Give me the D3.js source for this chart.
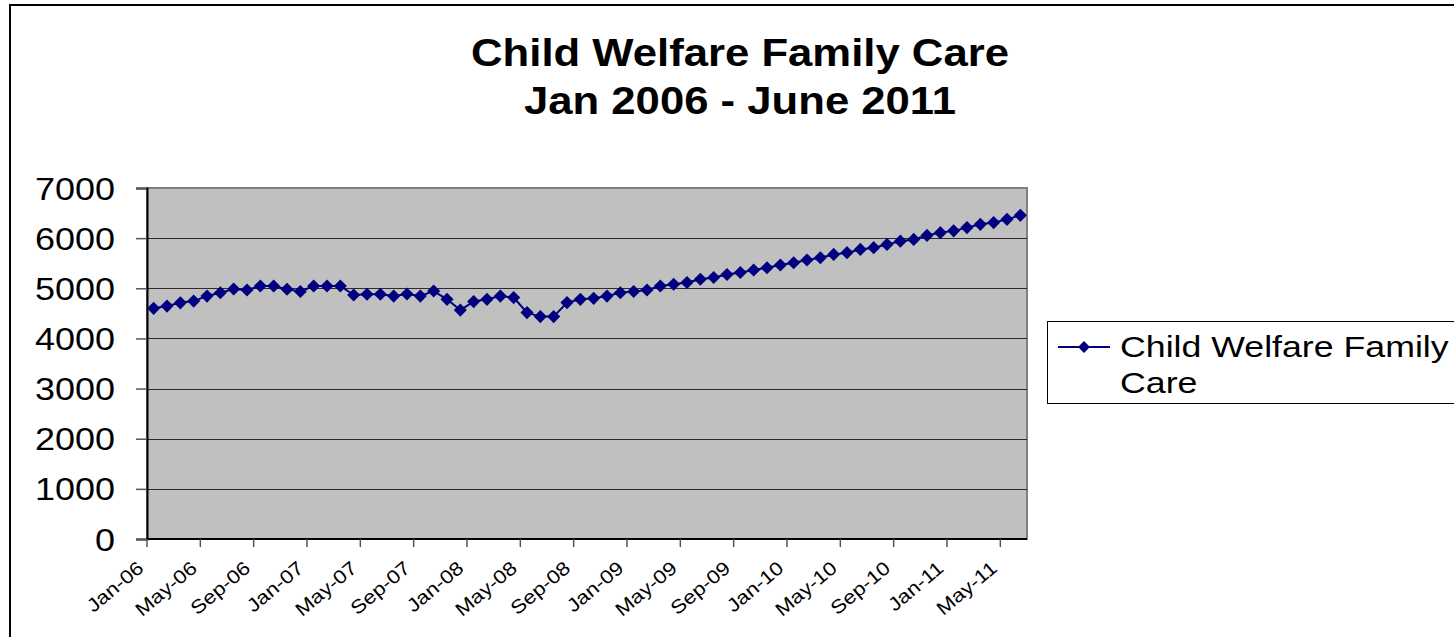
<!DOCTYPE html>
<html>
<head>
<meta charset="utf-8">
<script src="https://cdn.jsdelivr.net/npm/d3@7"></script>
<style>
    body{margin:0;background:#fff;}
    text{font-family:"Liberation Sans",Arial,sans-serif;}
</style>
</head>
<body>
<div id="chart"></div>
<script>
let chart_width = 1454;
let chart_height = 637;

let title_lines = ['Child Welfare Family Care','Jan 2006 - June 2011'];
let series_name = ['Child Welfare Family','Care'];

// one value per month, Jan-06 .. Jun-11
let months = d3.timeMonth.range(new Date(2006,0,1), new Date(2011,6,1)).map(d3.timeFormat('%b-%y'));
let family_care = [
    4600,4645,4710,4745,4845,4910,4985,4965,5045,5045,4980,4935,
    5045,5045,5045,4865,4880,4880,4845,4885,4845,4945,4780,4565,
    4735,4780,4845,4815,4515,4435,4435,4715,4780,4800,4845,4910,
    4935,4965,5045,5080,5115,5180,5215,5275,5315,5365,5410,5465,
    5510,5565,5610,5675,5710,5775,5810,5875,5940,5975,6055,6110,
    6145,6210,6275,6310,6375,6455
];
let y_ticks = [0,1000,2000,3000,4000,5000,6000,7000];
let x_tick_labels = ['Jan-06','May-06','Sep-06','Jan-07','May-07','Sep-07','Jan-08','May-08','Sep-08',
    'Jan-09','May-09','Sep-09','Jan-10','May-10','Sep-10','Jan-11','May-11'];

let plot = {left:147, right:1027, top:188, bottom:539};
let navy = '#000080';
// the source picture is stretched sideways a bit
let stretch = 1.16;

let svg = d3.select('#chart')
    .append('svg')
    .attr('width',chart_width)
    .attr('height',chart_height);

// outer chart frame
svg.append('rect')
    .attr('x',10)
    .attr('y',5)
    .attr('width',1460)
    .attr('height',650)
    .attr('fill','#fff')
    .attr('stroke','#000')
    .attr('stroke-width',2);

svg.append('g')
    .selectAll('text')
    .data(title_lines)
    .enter()
    .append('text')
    .text(d=>d)
    .attr('text-anchor','middle')
    .attr('transform',(d,i)=>'translate(740,'+(66+i*48)+') scale(1.12,1)')
    .style('font-size','39px')
    .style('font-weight','bold');

const xScale = d3.scaleBand().domain(months).range([plot.left,plot.right]).padding(0);
const yScale = d3.scaleLinear().domain([0,7000]).range([plot.bottom,plot.top]);

svg.append('rect')
    .attr('x',plot.left)
    .attr('y',plot.top)
    .attr('width',plot.right-plot.left)
    .attr('height',plot.bottom-plot.top)
    .attr('fill','#C0C0C0')
    .attr('stroke','#808080')
    .attr('stroke-width',2);

// gridlines
svg.append('g')
    .selectAll('line')
    .data(y_ticks.filter(t=>t>0 && t<7000))
    .enter()
    .append('line')
    .attr('x1',plot.left)
    .attr('x2',plot.right)
    .attr('y1',d=>Math.round(yScale(d))+0.5)
    .attr('y2',d=>Math.round(yScale(d))+0.5)
    .attr('stroke','#2b2b2b')
    .attr('stroke-width',1);

// y axis
let yAxis = svg.append('g')
    .attr('transform','translate('+plot.left+',0)')
    .call(d3.axisLeft(yScale).tickValues(y_ticks).tickSize(11).tickFormat(d3.format('d')));
yAxis.select('.domain').attr('stroke','#000').attr('stroke-width',2);
yAxis.selectAll('.tick line').attr('stroke','#555').attr('stroke-width',1.5);
yAxis.selectAll('text')
    .attr('x',null)
    .attr('dy',null)
    .attr('transform','translate(-32,11) scale('+stretch+',1)')
    .attr('fill','#000')
    .style('font-size','31px');

// x axis, ticks on the category boundaries
let xAxis = svg.append('g').attr('transform','translate(0,'+plot.bottom+')');
xAxis.append('line')
    .attr('x1',plot.left)
    .attr('x2',plot.right)
    .attr('stroke','#000')
    .attr('stroke-width',2);
xAxis.selectAll('.xtick')
    .data(x_tick_labels)
    .enter()
    .append('line')
    .attr('class','xtick')
    .attr('x1',d=>xScale(d))
    .attr('x2',d=>xScale(d))
    .attr('y1',0)
    .attr('y2',8)
    .attr('stroke','#555')
    .attr('stroke-width',1.5);
xAxis.selectAll('.xlabel')
    .data(x_tick_labels)
    .enter()
    .append('text')
    .attr('class','xlabel')
    .text(d=>d)
    .attr('text-anchor','end')
    .attr('transform',d=>'translate('+(xScale(d)-2)+',31) rotate(-40) scale('+stretch+',1)')
    .style('font-size','19px');

// series
let line = d3.line()
    .x((d,i)=>xScale(months[i])+xScale.bandwidth()/2)
    .y(d=>yScale(d));

svg.append('path')
    .datum(family_care)
    .attr('d',line)
    .attr('fill','none')
    .attr('stroke',navy)
    .attr('stroke-width',2);

let diamond = d3.symbol().type(d3.symbolDiamond2).size(110);
svg.append('g')
    .selectAll('path')
    .data(family_care)
    .enter()
    .append('path')
    .attr('d',diamond)
    .attr('transform',(d,i)=>'translate('+(xScale(months[i])+xScale.bandwidth()/2)+','+yScale(d)+')')
    .attr('fill',navy);

// legend
let legend = svg.append('g');
legend.append('rect')
    .attr('x',1047.5)
    .attr('y',321.5)
    .attr('width',420)
    .attr('height',82)
    .attr('fill','#fff')
    .attr('stroke','#000')
    .attr('stroke-width',1);
legend.append('line')
    .attr('x1',1058)
    .attr('x2',1110)
    .attr('y1',347)
    .attr('y2',347)
    .attr('stroke',navy)
    .attr('stroke-width',2);
legend.append('path')
    .attr('d',d3.symbol().type(d3.symbolDiamond2).size(90))
    .attr('transform','translate(1084,347)')
    .attr('fill',navy);
legend.selectAll('.legtext')
    .data(series_name)
    .enter()
    .append('text')
    .attr('class','legtext')
    .text(d=>d)
    .attr('transform',(d,i)=>'translate(1120,'+(357+i*36)+') scale(1.19,1)')
    .style('font-size','30px');
</script>
</body>
</html>
